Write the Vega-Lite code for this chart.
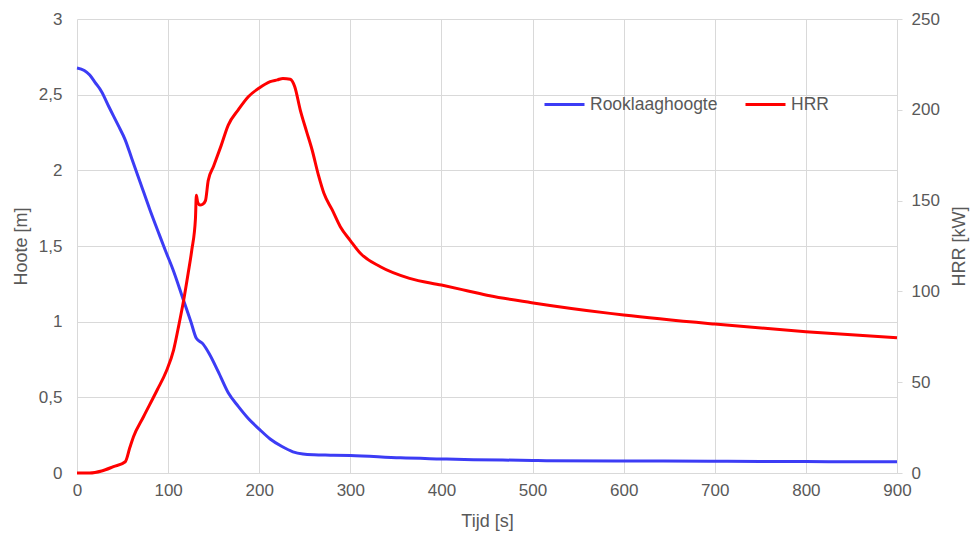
{
  "$schema": "https://vega.github.io/schema/vega-lite/v6.json",
  "width": 820,
  "height": 454,
  "autosize": {"type": "none"},
  "padding": {"left": 77, "top": 19, "right": 74, "bottom": 63},
  "background": "white",
  "config": {
    "font": "Liberation Sans",
    "view": {"stroke": null},
    "axis": {
      "labelColor": "#595959",
      "titleColor": "#595959",
      "labelFontSize": 17,
      "titleFontSize": 18,
      "titleFontWeight": "normal",
      "gridColor": "#d9d9d9",
      "domainColor": "#d9d9d9",
      "tickColor": "#d9d9d9"
    },
    "legend": {"labelColor": "#595959", "labelFontSize": 17.5}
  },
  "datasets": {
    "rook": [
      {"t": 0, "v": 2.676}, {"t": 8, "v": 2.66}, {"t": 14, "v": 2.63}, {"t": 20, "v": 2.58},
      {"t": 27, "v": 2.52}, {"t": 35, "v": 2.42}, {"t": 45, "v": 2.3}, {"t": 53, "v": 2.2},
      {"t": 60, "v": 2.08}, {"t": 70, "v": 1.91}, {"t": 80, "v": 1.74}, {"t": 90, "v": 1.58},
      {"t": 97, "v": 1.47}, {"t": 105, "v": 1.35}, {"t": 117, "v": 1.14}, {"t": 125, "v": 1.0},
      {"t": 131, "v": 0.89}, {"t": 138, "v": 0.855}, {"t": 145, "v": 0.79}, {"t": 155, "v": 0.67},
      {"t": 166, "v": 0.53}, {"t": 177, "v": 0.44}, {"t": 188, "v": 0.36}, {"t": 200, "v": 0.29},
      {"t": 212, "v": 0.225}, {"t": 225, "v": 0.175}, {"t": 237, "v": 0.14}, {"t": 248, "v": 0.125},
      {"t": 260, "v": 0.12}, {"t": 278, "v": 0.118}, {"t": 300, "v": 0.116}, {"t": 355, "v": 0.1},
      {"t": 400, "v": 0.093}, {"t": 435, "v": 0.088}, {"t": 500, "v": 0.083}, {"t": 515, "v": 0.081},
      {"t": 592, "v": 0.079}, {"t": 695, "v": 0.078}, {"t": 750, "v": 0.076}, {"t": 800, "v": 0.076},
      {"t": 850, "v": 0.074}, {"t": 900, "v": 0.074}
    ],
    "hrr": [
      {"t": 0, "v": 0}, {"t": 14, "v": 0}, {"t": 27, "v": 1.1}, {"t": 40, "v": 3.5},
      {"t": 53, "v": 6.2}, {"t": 58, "v": 14}, {"t": 62, "v": 20}, {"t": 73, "v": 31},
      {"t": 88, "v": 45.7}, {"t": 98, "v": 56}, {"t": 106, "v": 67.7}, {"t": 112, "v": 82},
      {"t": 117, "v": 95}, {"t": 122, "v": 110}, {"t": 126, "v": 122.8}, {"t": 130, "v": 140},
      {"t": 131, "v": 153}, {"t": 132.5, "v": 149}, {"t": 135, "v": 147.6}, {"t": 138, "v": 148},
      {"t": 141, "v": 150}, {"t": 144, "v": 161}, {"t": 150, "v": 169}, {"t": 158, "v": 180},
      {"t": 166, "v": 191.6}, {"t": 177, "v": 200}, {"t": 188, "v": 207.2}, {"t": 200, "v": 212},
      {"t": 212, "v": 215.5}, {"t": 220, "v": 216.5}, {"t": 226, "v": 217.3}, {"t": 234, "v": 216.8},
      {"t": 239, "v": 212.7}, {"t": 245, "v": 200}, {"t": 252, "v": 188}, {"t": 258, "v": 178},
      {"t": 265, "v": 164}, {"t": 271, "v": 154}, {"t": 280, "v": 145}, {"t": 289, "v": 135.6},
      {"t": 300, "v": 128}, {"t": 311, "v": 121}, {"t": 333, "v": 113.6}, {"t": 365, "v": 107.2},
      {"t": 400, "v": 103.5}, {"t": 428, "v": 100.4}, {"t": 453, "v": 97.6}, {"t": 499, "v": 93.8},
      {"t": 585, "v": 87.9}, {"t": 600, "v": 87}, {"t": 700, "v": 82}, {"t": 800, "v": 77.8},
      {"t": 900, "v": 74.5}
    ]
  },
  "layer": [
    {
      "data": {"name": "rook"},
      "transform": [{"calculate": "'Rooklaaghoogte'", "as": "serie"}],
      "mark": {"type": "line", "strokeWidth": 3, "interpolate": "monotone", "strokeJoin": "round"},
      "encoding": {
        "x": {
          "field": "t", "type": "quantitative",
          "scale": {"domain": [0, 900], "nice": false},
          "axis": {"title": "Tijd [s]", "values": [0,100,200,300,400,500,600,700,800,900], "ticks": false, "labelFlush": false, "labelPadding": 9, "titlePadding": 14, "domain": true}
        },
        "y": {
          "field": "v", "type": "quantitative",
          "scale": {"domain": [0, 3], "nice": false},
          "axis": {"title": "Hoote [m]", "orient": "left", "values": [0,0.5,1,1.5,2,2.5,3], "ticks": false, "domain": false, "labelPadding": 15, "titlePadding": 8, "labelExpr": "replace(toString(datum.value), '.', ',')"}
        },
        "color": {
          "field": "serie", "type": "nominal",
          "scale": {"domain": ["Rooklaaghoogte", "HRR"], "range": ["#3c3cf5", "#ff0000"]},
          "legend": {"title": null, "orient": "none", "direction": "horizontal", "legendX": 466, "legendY": 64, "symbolType": "stroke", "symbolSize": 1600, "symbolStrokeWidth": 3, "labelOffset": 4, "columnPadding": 21}
        }
      }
    },
    {
      "data": {"name": "hrr"},
      "transform": [{"calculate": "'HRR'", "as": "serie"}],
      "mark": {"type": "line", "strokeWidth": 3, "interpolate": "monotone", "strokeJoin": "round"},
      "encoding": {
        "x": {"field": "t", "type": "quantitative"},
        "y": {
          "field": "v", "type": "quantitative",
          "scale": {"domain": [0, 250], "nice": false},
          "axis": {"title": "HRR [kW]", "orient": "right", "values": [0,50,100,150,200,250], "grid": false, "domain": true, "ticks": true, "tickSize": 5, "labelPadding": 9, "titlePadding": 29, "titleAngle": 270}
        },
        "color": {"field": "serie", "type": "nominal"}
      }
    }
  ],
  "resolve": {"scale": {"y": "independent"}}
}
